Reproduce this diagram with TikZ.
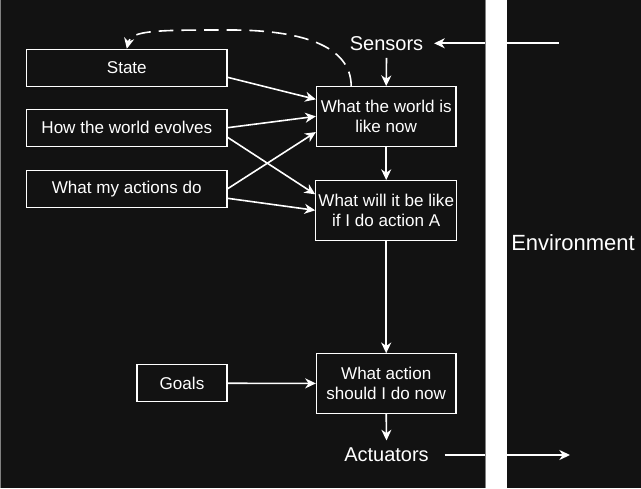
\documentclass[tikz,border=0pt]{standalone}
\usepackage{fontspec}
\setmainfont{Liberation Sans}
\usetikzlibrary{arrows.meta,calc}
\definecolor{panelbg}{HTML}{121212}

\begin{document}
\begin{tikzpicture}[x=0.75pt, y=-0.75pt,
  box/.style={draw=white, line width=0.8pt, text=white, align=center, inner sep=2pt,
    font=\fontsize{12.8}{15.4}\selectfont},
  side/.style={box, minimum width=150.3pt, minimum height=27.75pt},
  stage/.style={box, minimum width=104.7pt, minimum height=44.6pt},
  tag/.style={text=white, font=\fontsize{15}{18}\selectfont, inner xsep=8pt, inner ysep=5.5pt},
  link/.style={draw=white, line width=1.2pt, -{Stealth[length=8pt,width=7.5pt,inset=2.5pt]}}]
%%%%% Background %%%%%
\fill[panelbg] (0,0) rectangle (641,488);
\useasboundingbox (0,0) rectangle (641,488);

%%%%% Boxes %%%%%
\node[side] (state) at (126.8,67.8) {State};
\node[side] (evolves) at (126.8,127.7) {How the world evolves};
\node[side] (actions) at (126.8,188.8) {What my actions do};
\node[box, minimum width=67.5pt, minimum height=27.75pt] (goals) at (182,383.2) {Goals};
\node[stage] (wnow) at (386.2,116.35) {What the world is\\like now};
\node[stage] (wlike) at (386.2,210.3) {What will it be like\\if I do action A};
\node[stage] (action) at (386.2,383.5) {What action\\should I do now};

%%%%% Labels %%%%%
\node[tag] (sensors) at (386.5,43.3) {Sensors};
\node[tag] (actuators) at (386.5,455) {Actuators};
\node[text=white, font=\fontsize{16.5}{20}\selectfont] (env) at (573,243) {Environment};

%%%%% Arrows %%%%%
\draw[link] ($(state.east)+(0,9.5)$) -- ($(wnow.west)+(0,-17)$);
\draw[link] (evolves.east) -- (wnow.west);
\draw[link] ($(evolves.east)+(0,9.6)$) -- ($(wlike.west)+(0,-16)$);
\draw[link] (actions.east) -- ($(wnow.west)+(0,15.7)$);
\draw[link] ($(actions.east)+(0,9.5)$) -- (wlike.west);
\draw[link] (sensors.south) -- (wnow.north);
\draw[link] (wnow) -- (wlike);
\draw[link] (wlike) -- (action);
\draw[link] (goals) -- (action);
\draw[link] (action.south) -- (actuators.north);
\coordinate (envin) at (558.6,43.3);
\coordinate (envout) at (570,455);
\draw[link] (envin) -- (sensors.east);
\draw[link] ($(actuators.east)+(5,0)$) -- (envout);
% feedback into the state
\draw[link, dash pattern=on 11pt off 6pt] ($(wnow.north)+(-35,0)$) .. controls (351,45) and (300,30) .. (230,30)
  .. controls (160,30) and (131,30) .. (state.north);

%%%%% Divider %%%%%
\draw[gray, line width=0.8pt] (0.5,0) -- (0.5,488);
\draw[gray, line width=0.8pt] (485.5,0) -- (485.5,488);
\fill[white] (486,0) rectangle (506.7,488);
\end{tikzpicture}
\end{document}
